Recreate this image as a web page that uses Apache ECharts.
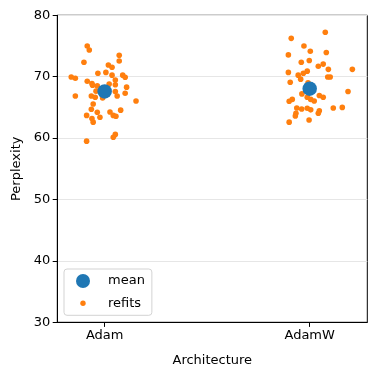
<!DOCTYPE html>
<html>
<head>
<meta charset="utf-8">
<script src="https://cdn.jsdelivr.net/npm/echarts@6/dist/echarts.min.js"></script>
<style>
  html, body { margin: 0; padding: 0; background: #fff; }
  #chart { width: 376px; height: 376px; }
</style>
</head>
<body>
<div id="chart"></div>
<script>
const categories = ['Adam', 'AdamW']

// refit perplexities per optimizer, with horizontal strip jitter
const adamRefits = [75.0, 74.35, 73.5, 72.55, 72.35, 71.9, 71.55, 70.7, 70.55, 70.25, 70.25, 69.9, 69.95, 69.75, 69.45,
  69.25, 68.9, 68.6, 68.8, 68.7, 68.5, 68.3, 67.65, 67.6, 67.3, 66.85, 66.85, 66.65, 66.55, 66.85,
  66.05, 65.55, 64.7, 64.55, 64.2, 64.25, 63.7, 63.7, 63.55, 63.4, 63.2, 62.6, 60.6, 60.15, 59.5]
const adamJitter = [-0.085, -0.075, 0.071, 0.071, -0.101, 0.018, 0.036, 0.006, -0.033, 0.036, 0.088, 0.1, -0.163, -0.143, 0.052,
  -0.085, -0.062, -0.059, 0.022, 0.052, -0.036, 0.107, -0.042, 0.052, 0.1, -0.143, -0.065, -0.046, -0.01, 0.061,
  0.153, -0.056, -0.065, 0.078, -0.036, 0.026, -0.088, 0.042, 0.055, -0.023, -0.062, -0.056, 0.052, 0.042, -0.088]

const adamwRefits = [77.25, 76.25, 75.0, 74.15, 73.55, 73.95, 72.65, 72.35, 72.05, 71.7, 71.2, 71.2, 70.7, 70.9,
  70.55, 70.25, 69.95, 69.95, 69.6, 69.1, 69.0, 67.6, 67.2, 66.95, 66.65, 66.65, 66.3, 66.3, 66.0, 66.05,
  64.9, 64.75, 64.85, 64.6, 64.9, 65.0, 64.45, 64.05, 64.05, 63.6, 62.95, 62.6]
const adamwJitter = [0.076, -0.09, -0.028, 0.003, -0.104, 0.081, -0.002, -0.041, 0.066, 0.042, 0.091, 0.208, -0.104, -0.012,
  -0.031, -0.056, 0.088, 0.1, -0.044, -0.095, -0.008, 0.187, -0.038, 0.047, 0.066, -0.012, 0.005, -0.085, -0.1, 0.022,
  -0.063, -0.039, -0.012, 0.005, 0.115, 0.159, 0.047, 0.042, -0.067, -0.07, -0.003, -0.1]

const means = [67.6, 68.05]

const yTicks = [30, 40, 50, 60, 70, 80]

const refitPoints = []
adamRefits.forEach((v, i) => refitPoints.push([0 + adamJitter[i], v]))
adamwRefits.forEach((v, i) => refitPoints.push([1 + adamwJitter[i], v]))
const meanPoints = means.map((v, i) => [i, v])

const font = 'DejaVu Sans'
const chart = echarts.init(document.getElementById('chart'))

chart.setOption({
  animation: false,
  textStyle: { fontFamily: font },
  grid: {
    left: 57.3,
    right: 8.7,
    top: 15.3,
    bottom: 53.7,
    show: true,
    borderColor: '#000',
    borderWidth: 1
  },
  legend: {
    orient: 'vertical',
    left: 64,
    top: 269,
    padding: [5, 7, 5, 12],
    itemWidth: 28,
    itemHeight: 14,
    itemGap: 8.3,
    backgroundColor: 'rgba(255,255,255,0.8)',
    borderColor: '#d3d3d3',
    borderWidth: 1,
    borderRadius: 3,
    textStyle: { fontFamily: font, fontSize: 13, color: '#000', padding: [0, 0, 0, 6] },
    data: [
      { name: 'mean', icon: 'circle' },
      { name: 'refits', icon: 'path://M0,0M14,14M9.7,7A2.7,2.7,0,1,1,4.3,7A2.7,2.7,0,1,1,9.7,7Z' }
    ]
  },
  xAxis: {
    type: 'value',
    min: -0.231,
    max: 1.281,
    name: 'Architecture',
    nameLocation: 'middle',
    nameGap: 32,
    nameTextStyle: { fontFamily: font, fontSize: 13, color: '#000' },
    axisLine: { show: true, onZero: false, lineStyle: { color: '#000', width: 1 } },
    axisTick: { show: true, customValues: [0, 1], length: 4.6, lineStyle: { color: '#000' } },
    axisLabel: {
      customValues: [0, 1],
      formatter: v => categories[Math.round(v)],
      fontFamily: font, fontSize: 13, color: '#000', margin: 7
    },
    splitLine: { show: false }
  },
  yAxis: {
    type: 'value',
    min: 30,
    max: 80,
    interval: 10,
    name: 'Perplexity',
    nameLocation: 'middle',
    nameGap: 34,
    nameTextStyle: { fontFamily: font, fontSize: 13, color: '#000' },
    axisLine: { show: true, onZero: false, lineStyle: { color: '#000', width: 1 } },
    axisTick: { show: true, length: 4.6, lineStyle: { color: '#000' } },
    axisLabel: {
      fontFamily: font, fontSize: 13, color: '#000', margin: 7,
      formatter: v => yTicks.includes(v) ? String(v) : ''
    },
    splitLine: { show: true, lineStyle: { color: '#e6e6e6', width: 1 } }
  },
  series: [
    {
      name: 'mean',
      type: 'scatter',
      data: meanPoints,
      symbolSize: 14.5,
      itemStyle: { color: '#1f77b4', opacity: 1 },
      z: 5
    },
    {
      name: 'refits',
      type: 'scatter',
      data: refitPoints,
      symbolSize: 5.6,
      itemStyle: { color: '#ff7f0e', opacity: 1 },
      z: 3
    }
  ]
})
</script>
</body>
</html>
